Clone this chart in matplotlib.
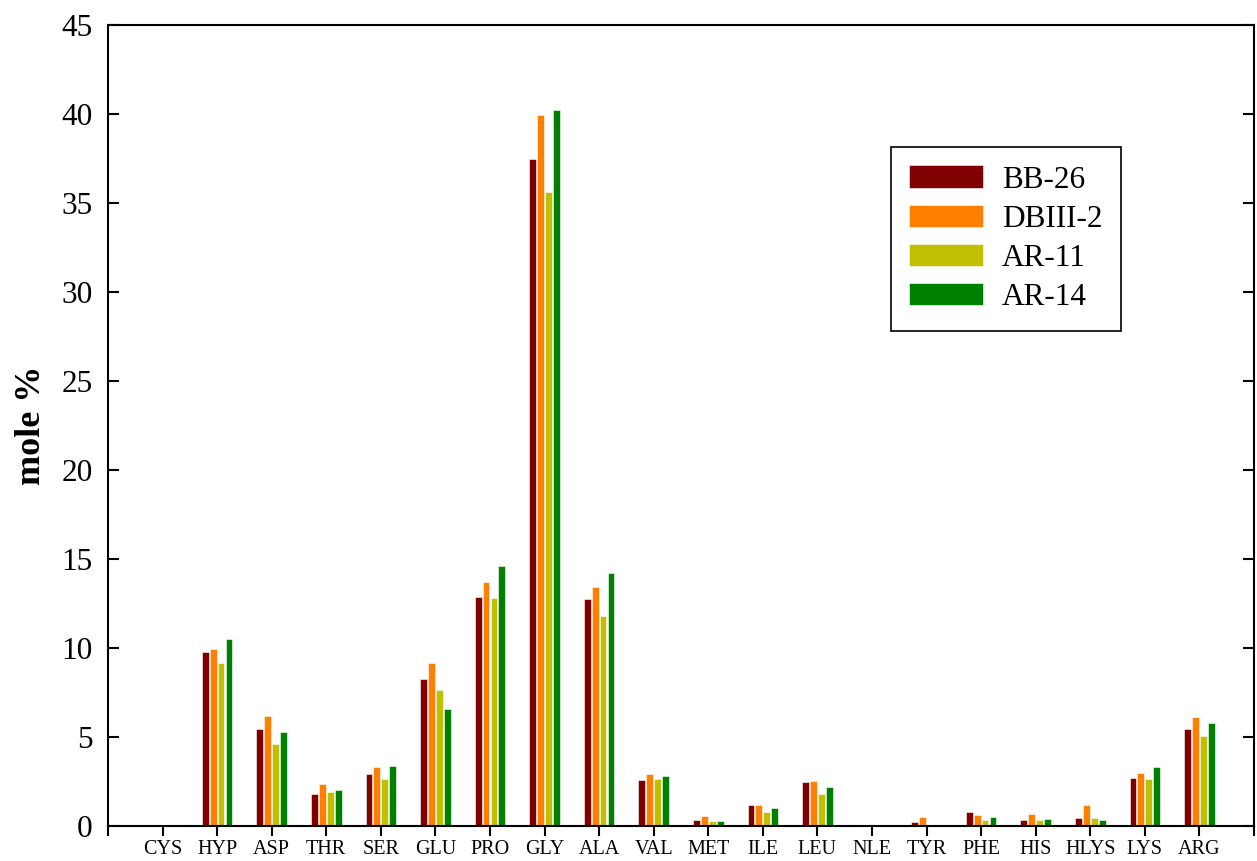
import numpy as np
import matplotlib.pyplot as plt

# amino acid composition (mole %)
amino_acids = ['CYS', 'HYP', 'ASP', 'THR', 'SER', 'GLU', 'PRO', 'GLY', 'ALA', 'VAL',
               'MET', 'ILE', 'LEU', 'NLE', 'TYR', 'PHE', 'HIS', 'HLYS', 'LYS', 'ARG']

bb_26 = [0, 9.79, 5.43, 1.82, 2.92, 8.24, 12.88, 37.45, 12.77, 2.58,
         0.32, 1.18, 2.47, 0, 0.24, 0.76, 0.35, 0.43, 2.70, 5.43]
dbiii_2 = [0, 9.96, 6.18, 2.34, 3.31, 9.16, 13.73, 39.92, 13.43, 2.92,
           0.58, 1.18, 2.53, 0, 0.52, 0.63, 0.69, 1.19, 2.98, 6.14]
ar_11 = [0, 9.16, 4.62, 1.91, 2.62, 7.66, 12.81, 35.62, 11.80, 2.66,
         0.28, 0.79, 1.78, 0, 0, 0.35, 0.35, 0.47, 2.64, 5.06]
ar_14 = [0, 10.50, 5.30, 2.00, 3.37, 6.55, 14.59, 40.20, 14.19, 2.83,
         0.26, 1.01, 2.17, 0, 0, 0.52, 0.41, 0.32, 3.30, 5.80]

series_names = ['BB-26', 'DBIII-2', 'AR-11', 'AR-14']
series_colors = ['#800000', '#FF8000', '#C0C000', '#008000']

plt.rcParams['font.family'] = ['Liberation Serif', 'DejaVu Serif']

fig = plt.figure(figsize=(12.57, 8.61), dpi=100)
ax = fig.add_axes([0.0859, 0.0407, 0.9117, 0.9303])

x = np.arange(len(amino_acids))
step = 0.145
width = 0.125
for i, (vals, name, col) in enumerate(zip([bb_26, dbiii_2, ar_11, ar_14],
                                          series_names, series_colors)):
    ax.bar(x + (i - 1.5) * step, vals, width=width, color=col,
           edgecolor='white', linewidth=0.4, label=name)

ax.set_xlim(-1, len(amino_acids))
ax.set_ylim(0, 45)
ax.set_yticks(np.arange(0, 46, 5))
ax.set_xticks(np.arange(-1, len(amino_acids) + 1))
ax.set_xticklabels([''] + amino_acids + [''])

ax.tick_params(axis='y', direction='in', length=8, width=1.5,
               labelsize=22.5, right=True, pad=11)
ax.tick_params(axis='x', direction='out', length=7, width=1.5,
               labelsize=14.5, pad=3)
for s in ax.spines.values():
    s.set_linewidth(1.5)

ax.set_ylabel('mole %', fontsize=26, fontweight='bold', labelpad=10)

leg = ax.legend(loc='upper left', bbox_to_anchor=(0.683, 0.848), fontsize=22.5,
                fancybox=False, edgecolor='k', framealpha=1,
                handlelength=2.35, handleheight=0.75, handletextpad=0.6,
                labelspacing=0.31, borderpad=0.6, borderaxespad=0)
leg.get_frame().set_linewidth(1.2)

plt.savefig('out.png', dpi=100)
